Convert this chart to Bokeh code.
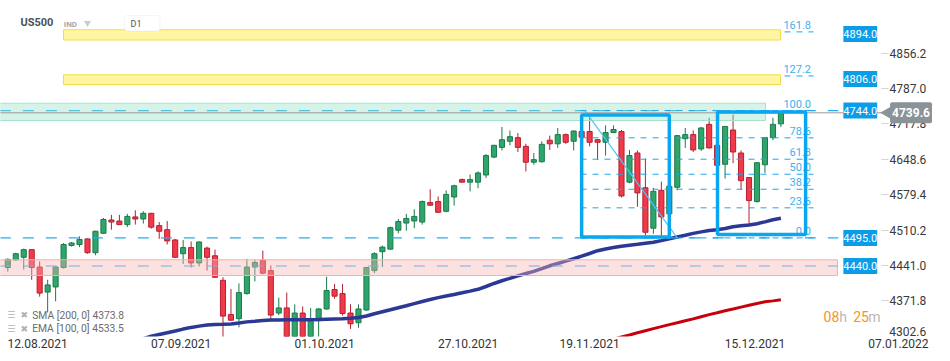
import math
from bokeh.plotting import figure
from bokeh.models import (Range1d, FixedTicker, LinearAxis, Label, BoxAnnotation,
                          ColumnDataSource, NumeralTickFormatter, AllLabels)
from bokeh.embed import file_html
from bokeh.resources import INLINE
from bokeh.core.properties import value

# ---------------- data ----------------
opens = [4437, 4452, 4457, 4472, 4438, 4389, 4399, 4437, 4480, 4482,
         4493, 4466, 4504, 4530, 4528, 4521, 4536, 4532, 4543, 4519,
         4511, 4491, 4464, 4476, 4446, 4475, 4460, 4412, 4345, 4337,
         4386, 4438, 4451, 4431, 4348, 4358, 4294, 4348, 4298, 4333,
         4356, 4394, 4386, 4348, 4329, 4354, 4431, 4468, 4473, 4510,
         4524, 4528, 4526, 4564, 4566, 4547, 4575, 4609, 4604, 4604,
         4618, 4653, 4672, 4684, 4691, 4674, 4643, 4644, 4686, 4679,
         4697, 4684, 4703, 4703, 4687, 4682, 4701, 4703, 4604, 4661,
         4593, 4514, 4588, 4542, 4594, 4689, 4697, 4669, 4717, 4676,
         4639, 4706, 4661, 4613, 4566, 4638, 4691, 4718]
highs = [4455, 4466, 4474, 4473, 4449, 4413, 4439, 4485, 4487, 4498,
         4494, 4509, 4534, 4540, 4540, 4542, 4549, 4547, 4544, 4526,
         4528, 4493, 4491, 4488, 4488, 4478, 4472, 4418, 4395, 4406,
         4454, 4452, 4470, 4441, 4378, 4388, 4365, 4361, 4358, 4358,
         4419, 4405, 4405, 4365, 4365, 4437, 4467, 4480, 4517, 4532,
         4542, 4551, 4568, 4590, 4576, 4588, 4599, 4611, 4619, 4625,
         4659, 4677, 4712, 4705, 4700, 4679, 4661, 4684, 4695, 4710,
         4699, 4705, 4706, 4734, 4688, 4715, 4715, 4706, 4667, 4666,
         4650, 4593, 4605, 4596, 4696, 4710, 4705, 4712, 4730, 4680,
         4713, 4736, 4666, 4613, 4643, 4691, 4730, 4740]
lows = [4429, 4450, 4433, 4413, 4380, 4349, 4371, 4435, 4478, 4477,
        4464, 4461, 4503, 4511, 4520, 4516, 4521, 4523, 4513, 4493,
        4482, 4456, 4444, 4437, 4439, 4431, 4417, 4298, 4333, 4320,
        4384, 4410, 4424, 4336, 4344, 4282, 4285, 4278, 4290, 4292,
        4354, 4376, 4343, 4317, 4319, 4352, 4426, 4438, 4472, 4504,
        4509, 4514, 4521, 4558, 4544, 4545, 4558, 4603, 4586, 4592,
        4612, 4651, 4666, 4676, 4663, 4625, 4638, 4642, 4667, 4671,
        4679, 4666, 4690, 4674, 4648, 4656, 4700, 4574, 4602, 4556,
        4500, 4503, 4496, 4538, 4588, 4671, 4663, 4665, 4670, 4630,
        4611, 4641, 4590, 4523, 4564, 4622, 4686, 4712]
closes = [4453, 4464, 4472, 4437, 4387, 4403, 4438, 4482, 4485, 4492,
          4466, 4508, 4531, 4526, 4521, 4537, 4532, 4543, 4516, 4508,
          4489, 4457, 4476, 4446, 4487, 4457, 4418, 4342, 4334, 4388,
          4438, 4447, 4426, 4344, 4358, 4294, 4348, 4298, 4337, 4356,
          4392, 4381, 4347, 4327, 4356, 4437, 4464, 4477, 4515, 4527,
          4533, 4537, 4566, 4559, 4545, 4580, 4597, 4604, 4609, 4622,
          4656, 4676, 4687, 4693, 4672, 4643, 4648, 4678, 4679, 4697,
          4682, 4704, 4692, 4682, 4682, 4701, 4707, 4577, 4656, 4583,
          4506, 4586, 4536, 4596, 4695, 4697, 4667, 4710, 4671, 4637,
          4713, 4663, 4607, 4568, 4642, 4691, 4717, 4739.6]

ema100 = [4298.0, 4302.5, 4306.0, 4309.5, 4312.8, 4316.6, 4319.9, 4322.4, 4324.6, 4325.8,
          4326.2, 4326.7, 4328.5, 4330.7, 4332.0, 4333.4, 4334.4, 4334.6, 4334.8, 4334.8,
          4334.8, 4334.8, 4335.3, 4335.9, 4336.3, 4336.7, 4337.7, 4339.3, 4342.2, 4346.5,
          4350.4, 4354.3, 4358.4, 4362.3, 4366.4, 4370.5, 4374.5, 4378.2, 4381.3, 4384.4,
          4387.6, 4390.9, 4394.4, 4399.9, 4405.8, 4411.2, 4415.9, 4420.6, 4425.3, 4429.6,
          4434.9, 4440.4, 4444.9, 4449.4, 4454.2, 4459.3, 4464.4, 4469.9, 4473.4, 4476.0,
          4478.5, 4480.5, 4482.4, 4484.4, 4486.3, 4489.7, 4493.2, 4496.7, 4500.2, 4503.8,
          4506.7, 4509.4, 4510.8, 4513.5, 4516.9, 4518.6, 4520.2, 4522.5, 4526.4, 4530.4,
          4533.5]
sma200 = [4297.0, 4301.1, 4305.0, 4309.3, 4313.4, 4317.5, 4321.4, 4325.4, 4329.1, 4332.8,
          4336.5, 4340.8, 4344.9, 4348.6, 4352.4, 4355.9, 4359.6, 4363.1, 4366.6, 4370.0,
          4371.8, 4373.8]

date_ticks = [0, 18, 36, 54, 69.25, 90, 108]
date_labels = ["12.08.2021", "07.09.2021", "01.10.2021", "27.10.2021",
               "19.11.2021", "15.12.2021", "07.01.2022"]
price_ticks = [4371.8, 4441.0, 4510.2, 4579.4, 4648.6, 4717.8, 4787.0, 4856.2]
lowest_price_tick = 4302.6

level_prices = [4894.0, 4806.0, 4744.0, 4495.0, 4440.0]
fib_low, fib_high = 4495.0, 4744.0
fib_ratios = [0.0, 23.6, 38.2, 50.0, 61.8, 78.6, 100.0, 127.2, 161.8]
yellow_zones = [(4882.0, 4902.0), (4795.0, 4814.0)]
teal_zone = (4724.6, 4758.4)
pink_zone = (4421.4, 4452.1)
last_price = 4739.6
sma_last, ema_last = 4373.8, 4533.5

FONT = "Roboto"
LABEL_SHIFT = 3.75   # date labels start at their tick (left aligned look)

n = len(closes)
xs = list(range(n))
up = [c >= o for o, c in zip(opens, closes)]
src = ColumnDataSource(dict(
    x=xs,
    top=[max(o, c) for o, c in zip(opens, closes)],
    bottom=[min(o, c) for o, c in zip(opens, closes)],
    high=highs, low=lows,
    fill=["#2ea56a" if u else "#f03a4a" for u in up],
    edge=["#1b7a4c" if u else "#b51f30" for u in up],
))

p = figure(width=950, height=361, output_backend="svg", toolbar_location=None,
           x_range=Range1d(-0.916, 118.28), y_range=Range1d(4302.1, 4959.3),
           x_axis_location=None, y_axis_location=None,
           min_border_left=0, min_border_right=0, min_border_top=0, min_border_bottom=25,
           outline_line_color=None, background_fill_color="white", border_fill_color="white")
p.grid.visible = False

label_pos = [t + LABEL_SHIFT for t in date_ticks]
xaxis = LinearAxis(ticker=FixedTicker(ticks=label_pos),
                   major_label_overrides={t: l for t, l in zip(label_pos, date_labels)},
                   axis_line_color=None, major_tick_line_color=None,
                   major_tick_in=0, major_tick_out=0, minor_tick_line_color=None,
                   major_label_text_font=FONT, major_label_text_font_size="12px",
                   major_label_text_color="#333333",
                   major_label_standoff=2, major_label_policy=AllLabels())
p.add_layout(xaxis, "below")

yaxis = LinearAxis(ticker=FixedTicker(ticks=price_ticks),
                   formatter=NumeralTickFormatter(format="0.0"),
                   fixed_location=109.62,
                   axis_line_color=None, major_tick_line_color="#d5d5d5",
                   major_tick_in=0, major_tick_out=7, minor_tick_line_color=None,
                   major_label_text_font=FONT, major_label_text_font_size="12px",
                   major_label_text_color="#3a3a3a", major_label_standoff=1,
                   major_label_policy=AllLabels())
p.add_layout(yaxis, "right")

# candles
p.segment(x0="x", y0="high", x1="x", y1="low", line_color="edge", line_width=1, source=src)
p.vbar(x="x", width=0.64, top="top", bottom="bottom", fill_color="fill",
       line_color="edge", line_width=1, source=src)

# moving averages
p.line(list(range(n - len(ema100), n)), ema100, line_color="#2b3894", line_width=3.5)
p.line(list(range(n - len(sma200), n)), sma200, line_color="#c8000c", line_width=3)

# horizontal levels (under the zones)
for lv in level_prices[2:]:
    p.segment(x0=-1, y0=lv, x1=104.2, y1=lv, line_color="#22aef0", line_width=1.2,
              line_dash="11 12")

# zones
p.quad(left=-1, right=95.07, bottom=teal_zone[0], top=teal_zone[1],
       fill_color="#96e1c8", fill_alpha=0.4, line_color="#a3e2cc", line_width=1)
p.quad(left=-1, right=104.1, bottom=pink_zone[0], top=pink_zone[1],
       fill_color="#f8b4b4", fill_alpha=0.4, line_color="#f2b0b0", line_width=1)

# current price line
p.segment(x0=-1, y0=last_price, x1=109.75, y1=last_price, line_color="#9a9a9a", line_width=1)

# fibonacci levels
fib_levels = [fib_low + r / 100.0 * (fib_high - fib_low) for r in fib_ratios]
p.segment(x0=71.86, x1=101.09, y0=fib_levels, y1=fib_levels, line_color="#1aa6ec",
          line_width=1, line_dash="6 6")
for lo, hi in yellow_zones:
    p.quad(left=6.99, right=96.95, bottom=lo, top=hi, fill_color="#fff5a3",
           fill_alpha=1.0, line_color="#f2dc48", line_width=1)
p.text(x=100.78, y=fib_levels, text=[f"{r:.1f}" for r in fib_ratios],
       text_align="right", text_baseline="bottom", y_offset=-3,
       text_font=value(FONT), text_font_size="11px", text_color="#3db1ec")

# fib anchor diagonal
p.line([72.4, 84.0], [fib_high, fib_low], line_color="#4fc3f7", line_width=1.2)

# highlight boxes
p.quad(left=[72.0, 89.05], right=[83.0, 100.1], bottom=[4496.7, 4501.6],
       top=[4735.3, 4741.2], fill_alpha=0, line_color="#0aa7ef", line_width=3.5)

# right-hand level labels
for lv in level_prices:
    p.add_layout(Label(x=106.96, y=lv, text=f"{lv:.1f}", text_align="center",
                       text_baseline="middle", text_color="white", text_font=FONT,
                       text_font_size="11px", background_fill_color="#0b9de8",
                       padding=(0, 4)))

# last price marker (arrow + box)
p.scatter(x=[110.62], y=[last_price], marker="triangle", angle=math.pi / 2, size=16,
          fill_color="#8a9398", line_color=None)
p.add_layout(Label(x=113.33, y=last_price, text=f"{last_price:.1f}", text_align="center",
                   text_baseline="middle", text_color="white", text_font=FONT,
                   text_font_size="12px", text_font_style="bold",
                   background_fill_color="#8a9398", padding=(2, 6), border_radius=2))
p.add_layout(Label(x=110.6, y=4312.8, text=f"{lowest_price_tick:.1f}", text_align="left",
                   text_baseline="middle", text_color="#3a3a3a", text_font=FONT,
                   text_font_size="12px"))

# legend of indicators
for yy, name, val in [(4343.7, "SMA [200,  0]", sma_last), (4317.1, "EMA [100,  0]", ema_last)]:
    p.add_layout(Label(x=-0.08, y=yy, text="☰", text_align="left", text_baseline="middle",
                       text_color="#b0b0b0", text_font="DejaVu Sans", text_font_size="9px"))
    p.add_layout(Label(x=1.59, y=yy, text="✖", text_align="left", text_baseline="middle",
                       text_color="#b0b0b0", text_font="DejaVu Sans", text_font_size="9px"))
    p.add_layout(Label(x=3.06, y=yy, text=f"{name} {val:.1f}", text_align="left",
                       text_baseline="middle", text_color="#6b6b6b", text_font=FONT,
                       text_font_size="10.3px"))

# header
p.add_layout(BoxAnnotation(left=14.64, right=19.1, top=4930.0, bottom=4899.6,
                           fill_color="white", fill_alpha=1, line_color="#dcdcdc",
                           line_width=1, border_radius=3))
p.add_layout(Label(x=1.59, y=4915.3, text="US500", text_align="left", text_baseline="middle",
                   text_color="#4b5157", text_font=FONT, text_font_size="11px",
                   text_font_style="bold"))
p.add_layout(Label(x=7.03, y=4912.4, text="IND", text_align="left", text_baseline="middle",
                   text_color="#a3a8ad", text_font=FONT, text_font_size="8px",
                   text_font_style="bold"))
p.add_layout(Label(x=15.4, y=4912.4, text="D1", text_align="left", text_baseline="middle",
                   text_color="#555555", text_font=FONT, text_font_size="9px"))
p.scatter(x=[10.0, 18.15], y=[4915.3, 4915.3], marker="inverted_triangle", size=7,
          fill_color="#c8ccd0", line_color=None)

# candle countdown
for xx, txt, col in [(102.35, "08", "#f7941e"), (104.32, "h", "#b8b8b8"),
                     (106.07, "25", "#f7941e"), (107.95, "m", "#b8b8b8")]:
    p.add_layout(Label(x=xx, y=4341.2, text=txt, text_align="left", text_baseline="middle",
                       text_color=col, text_font=FONT, text_font_size="14px"))

open("out.html", "w").write(file_html(p, INLINE))
